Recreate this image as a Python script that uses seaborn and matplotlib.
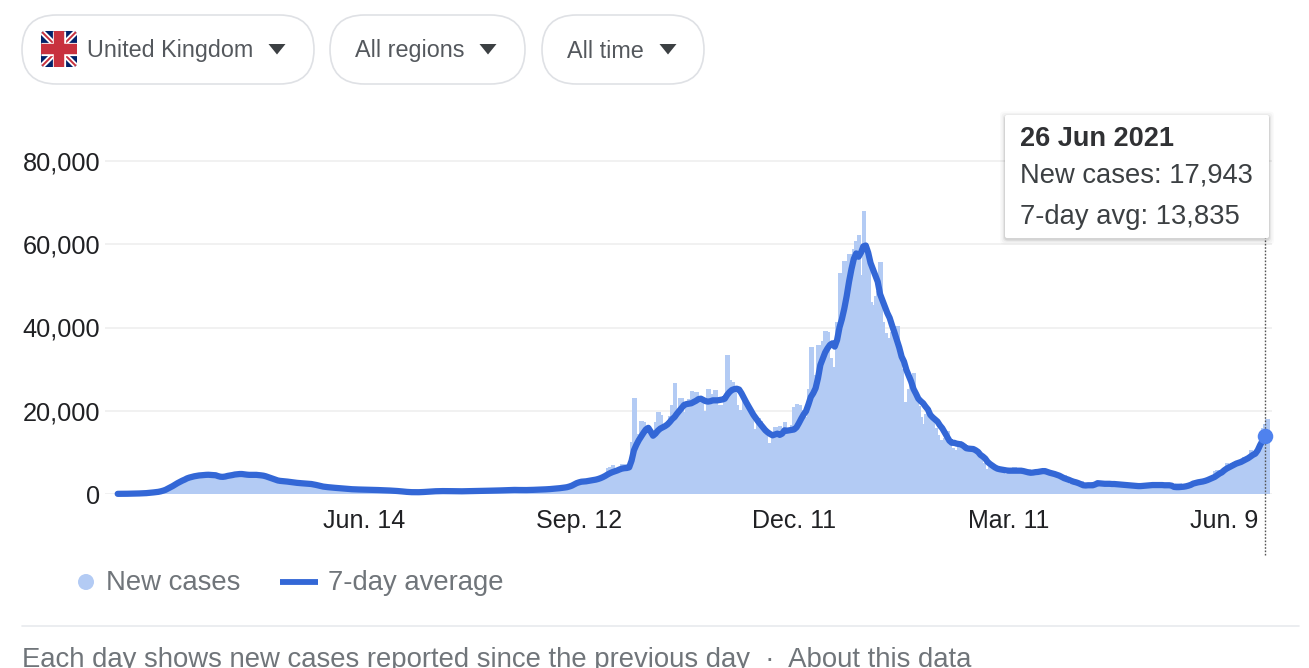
import matplotlib
matplotlib.use("Agg")
import matplotlib.pyplot as plt
import matplotlib.dates as mdates
from matplotlib.patches import FancyBboxPatch, Polygon, Circle
import numpy as np
import pandas as pd
import seaborn as sns

# Daily reported cases, one row per week (Tuesday to Monday), from 3 Mar 2020
new_cases = [
    50, 40, 50, 60, 60, 50, 40,
    70, 60, 90, 130, 210, 150, 170,
    300, 400, 480, 540, 700, 850, 1000,
    1200, 1500, 2100, 2600, 2600, 2500, 2700,
    3300, 3800, 4000, 4200, 4300, 4400, 4200,
    4500, 4700, 4700, 4800, 4600, 4400, 4300,
    4000, 4000, 4100, 4300, 4500, 4600, 4400,
    4600, 4800, 4900, 4900, 4800, 4500, 4300,
    4500, 4700, 4800, 4700, 4500, 4200, 4000,
    3600, 3700, 3900, 3500, 3200, 2900, 2900,
    3000, 3100, 3100, 2900, 2700, 2500, 2500,
    2600, 2700, 2700, 2500, 2300, 2100, 2000,
    1950, 1900, 1850, 1750, 1600, 1400, 1500,
    1500, 1600, 1500, 1400, 1300, 1200, 1100,
    1100, 1200, 1200, 1150, 1100, 1000, 900,
    1000, 1100, 1100, 1000, 900, 850, 800,
    850, 950, 950, 850, 750, 650, 550,
    650, 600, 550, 500, 450, 400, 350,
    450, 550, 550, 600, 550, 500, 550,
    650, 750, 750, 750, 700, 650, 600,
    650, 700, 700, 700, 650, 600, 600,
    680, 750, 750, 780, 750, 720, 700,
    800, 880, 850, 850, 800, 750, 700,
    870, 950, 1000, 1050, 1000, 950, 850,
    950, 1050, 1050, 1000, 950, 850, 900,
    1050, 1150, 1150, 1100, 1100, 1100, 1200,
    1200, 1350, 1400, 1450, 1450, 1500, 1700,
    1900, 2400, 2600, 2900, 3200, 2900, 2600,
    2700, 3100, 3300, 3400, 3900, 4400, 4000,
    4900, 6200, 6600, 6900, 6000, 5700, 4000,
    7100, 7100, 6900, 7000, 12600, 23000, 14500,
    14200, 17500, 17200, 13900, 15200, 12900, 14000,
    17200, 19700, 19000, 15700, 16200, 17000, 18800,
    21300, 26700, 20500, 23000, 23000, 19800, 20900,
    22900, 24700, 23100, 24400, 21900, 23300, 19000,
    20000, 25200, 24100, 23300, 25000, 20600, 21400,
    20400, 23000, 33500, 27300, 26900, 25000, 21400,
    20100, 19600, 22900, 20300, 19900, 18700, 15500,
    11300, 18200, 17600, 16000, 15900, 12200, 12300,
    13400, 16200, 14900, 16300, 15500, 17300, 14700,
    12300, 16600, 21000, 21700, 21500, 18400, 20300,
    18500, 25200, 35400, 28500, 27100, 35900, 33400,
    36800, 39200, 39000, 32700, 30500, 30500, 41400,
    53100, 50000, 55900, 53300, 57700, 55000, 58800,
    60900, 62300, 52600, 68000, 59900, 54900, 46200,
    45500, 47500, 48700, 55800, 41300, 38600, 37500,
    33400, 38900, 37900, 40300, 33600, 30000, 22200,
    20100, 25300, 28700, 29100, 23300, 21100, 18600,
    16800, 19200, 20600, 19100, 18300, 15800, 14100,
    12400, 13000, 13500, 15100, 13300, 11000, 9800,
    10600, 12700, 12100, 12000, 10400, 9800, 10600,
    8500, 9900, 10000, 8500, 7400, 6000, 5500,
    6400, 5800, 6600, 6000, 5500, 5200, 4700,
    4700, 5900, 6300, 6600, 5500, 4600, 5100,
    5300, 5800, 6000, 5300, 5000, 4700, 5300,
    5200, 5500, 5700, 5500, 5000, 4300, 3800,
    4000, 4000, 4500, 4500, 3400, 2300, 2300,
    2400, 3000, 3000, 3100, 2600, 1700, 1800,
    2500, 2800, 3000, 2700, 2200, 1900, 2100,
    2600, 2500, 2700, 2600, 2100, 1700, 1900,
    2300, 2400, 2300, 2200, 1900, 1600, 1650,
    2000, 2200, 2300, 2100, 2000, 1700, 1650,
    2350, 2500, 2450, 2300, 1900, 1700, 1650,
    2300, 2700, 2700, 2000, 1900, 1600, 1700,
    2500, 2800, 3200, 3400, 3200, 2500, 3100,
    3400, 3600, 4000, 5600, 5800, 5000, 5300,
    6000, 7500, 7000, 7400, 7700, 7400, 7800,
    7700, 8900, 8000, 8400, 10600, 9300, 9300,
    10500, 12000, 15800, 16700, 17943,
]

# Seven-day average for the same days
seven_day_avg = [
    40, 40, 40, 50, 60, 70, 80,
    100, 110, 130, 150, 180, 210, 260,
    330, 380, 440, 520, 640, 800, 1000,
    1300, 1600, 1900, 2250, 2600, 2900, 3200,
    3450, 3750, 3950, 4100, 4250, 4350, 4450,
    4500, 4560, 4600, 4620, 4580, 4560, 4500,
    4300, 4150, 4120, 4200, 4350, 4450, 4550,
    4680, 4750, 4800, 4800, 4720, 4650, 4600,
    4600, 4600, 4600, 4550, 4480, 4400, 4250,
    4050, 3850, 3650, 3450, 3250, 3150, 3100,
    3050, 2980, 2900, 2820, 2750, 2680, 2620,
    2580, 2540, 2500, 2460, 2400, 2300, 2180,
    2050, 1900, 1780, 1700, 1640, 1580, 1530,
    1480, 1430, 1380, 1330, 1280, 1230, 1190,
    1150, 1120, 1100, 1080, 1060, 1040, 1020,
    1010, 1000, 990, 970, 950, 930, 910,
    890, 860, 830, 800, 770, 720, 680,
    620, 560, 510, 470, 440, 430, 420,
    430, 450, 480, 520, 570, 620, 650,
    660, 680, 690, 700, 700, 700, 690,
    680, 670, 660, 650, 650, 660, 670,
    680, 700, 710, 720, 740, 750, 760,
    780, 790, 800, 810, 830, 840, 860,
    880, 900, 920, 950, 970, 980, 960,
    960, 950, 940, 950, 960, 980, 1000,
    1020, 1040, 1060, 1090, 1120, 1150, 1190,
    1240, 1290, 1340, 1400, 1470, 1550, 1640,
    1800, 2000, 2300, 2600, 2800, 2950, 3000,
    3050, 3150, 3250, 3350, 3450, 3600, 3800,
    4050, 4350, 4700, 5000, 5250, 5450, 5650,
    5900, 6100, 6200, 6250, 6400, 8000, 10500,
    11800, 12900, 13800, 14700, 15500, 15900, 15000,
    14000, 14500, 15200, 15700, 16000, 16300, 16700,
    17300, 18000, 18500, 19300, 20000, 20700, 21400,
    21600, 21700, 21800, 22100, 22400, 22800, 22900,
    22600, 22300, 22200, 22300, 22500, 22500, 22500,
    22600, 22700, 22900, 23800, 24500, 25000, 25200,
    25300, 25100, 24200, 23100, 22000, 21000, 20000,
    19000, 18200, 17400, 16700, 16000, 15300, 14800,
    14400, 14100, 14300, 14500, 14200, 14500, 15300,
    15200, 15300, 15400, 15500, 16000, 17000, 18100,
    19100, 19900, 21500, 23300, 24200, 25400, 27800,
    31000, 32500, 34000, 35000, 35800, 36200, 35400,
    37000, 40000, 42000, 44500, 47500, 51000, 54000,
    56500, 57800, 57000, 58000, 59500, 59700, 58000,
    55500, 54000, 52500, 51000, 48000, 46500, 45000,
    43500, 42300, 40500, 38800, 37000, 35200, 33000,
    31800, 29800, 28400, 27000, 25200, 24100, 22900,
    22300, 21800, 21000, 20300, 19000, 18400, 17900,
    17400, 16500, 15800, 14800, 13800, 12800, 12300,
    12300, 12100, 12000, 11900, 11500, 11000, 10900,
    10850, 10800, 10500, 10100, 9400, 9000, 8500,
    7700, 7200, 6800, 6400, 6100, 5950, 5850,
    5750, 5650, 5600, 5600, 5580, 5580, 5600,
    5600, 5500, 5350, 5200, 5100, 5150, 5250,
    5300, 5400, 5500, 5500, 5300, 5100, 4950,
    4800, 4600, 4400, 4100, 3800, 3600, 3400,
    3150, 2950, 2800, 2600, 2350, 2100, 2050,
    2100, 2100, 2100, 2300, 2600, 2550, 2500,
    2450, 2450, 2450, 2400, 2400, 2350, 2300,
    2250, 2200, 2150, 2100, 2050, 2000, 1950,
    1900, 1900, 1950, 2000, 2050, 2100, 2150,
    2150, 2150, 2150, 2150, 2100, 2100, 2100,
    2000, 1700, 1650, 1650, 1700, 1750, 1850,
    2000, 2200, 2500, 2650, 2800, 2900, 3000,
    3150, 3350, 3600, 3850, 4100, 4500, 4900,
    5200, 5700, 6100, 6400, 6700, 7000, 7300,
    7500, 7700, 8000, 8300, 8600, 9000, 9400,
    9700, 10500, 11760, 12800, 13835,
]

first_day = "2020-03-03"
tick_dates = ["2020-06-14", "2020-09-12", "2020-12-11", "2021-03-11", "2021-06-09"]
tick_labels = ["Jun. 14", "Sep. 12", "Dec. 11", "Mar. 11", "Jun. 9"]
y_ticks = [0, 20000, 40000, 60000, 80000]
filter_labels = ["United Kingdom", "All regions", "All time"]

W, H = 1309, 668
PX_PER_DAY = 2.39
PX_PER_CASE = 333 / 80000
FIRST_DAY_PX = 117.7
BAR_COLOR = "#b3cbf4"
LINE_COLOR = "#3367d6"
MUTED = "#70757a"
INK = "#202124"

sns.set_theme(style="white")
plt.rcParams["font.family"] = ["Liberation Sans", "DejaVu Sans"]

dates = pd.date_range(first_day, periods=len(new_cases), freq="D")
day_num = mdates.date2num(dates)
df = pd.DataFrame({"day": day_num, "cases": new_cases, "avg": seven_day_avg})
df["bar_day"] = df["day"] + 1.2

fig = plt.figure(figsize=(W / 100, H / 100), dpi=100, facecolor="white")

# Plot area: baseline sits on pixel row 494
left_px, right_px, top_px, base_px = 105, 1272, 105, 494
ax = fig.add_axes([left_px / W, 1 - base_px / H, (right_px - left_px) / W, (base_px - top_px) / H])
ax.set_facecolor("none")

sns.barplot(data=df, x="bar_day", y="cases", native_scale=True, width=1.9,
            color=BAR_COLOR, saturation=1, linewidth=0, errorbar=None, ax=ax, zorder=2)
sns.lineplot(data=df, x="day", y="avg", color=LINE_COLOR, linewidth=4.5, errorbar=None,
             ax=ax, zorder=3, clip_on=False, solid_joinstyle="round")

ax.set_xlim(day_num[0] + (left_px - FIRST_DAY_PX) / PX_PER_DAY,
            day_num[0] + (right_px - FIRST_DAY_PX) / PX_PER_DAY)
ax.set_ylim(0, (base_px - top_px) / PX_PER_CASE)
ax.set_xticks(mdates.date2num(pd.to_datetime(tick_dates)))
ax.set_xticklabels(tick_labels)
ax.set_yticks(y_ticks)
ax.set_yticklabels([f"{v:,}" for v in y_ticks])
ax.set_xlabel("")
ax.set_ylabel("")
ax.tick_params(axis="x", length=6.5, width=1, color="#e4e4e4", labelsize=18, labelcolor=INK, pad=4)
ax.tick_params(axis="y", length=0, labelsize=18.3, labelcolor=INK, pad=3.5)
ax.grid(axis="y", color="#efefef", linewidth=1.2, zorder=0)
ax.set_axisbelow(True)
for spine in ax.spines.values():
    spine.set_visible(False)

# Crosshair and marker on the latest day
ax.vlines(day_num[-1], -61 / PX_PER_CASE, 256 / PX_PER_CASE, colors="#555555",
          linestyles=(0, (1.2, 1.2)), linewidth=1.0, clip_on=False, zorder=4)
sns.scatterplot(x=[day_num[-1]], y=[seven_day_avg[-1]], s=125, color="#4f82ee", linewidth=0,
                ax=ax, zorder=5, clip_on=False, legend=False)

# Page furniture drawn in pixel coordinates over the whole figure
ui = fig.add_axes([0, 0, 1, 1])
ui.set_xlim(0, W)
ui.set_ylim(H, 0)
ui.axis("off")
ui.patch.set_alpha(0)


def pill(x0, x1, y0=15, y1=84):
    r = (y1 - y0) / 2
    ui.add_patch(FancyBboxPatch((x0 + r, y0 + r), x1 - x0 - 2 * r, 0,
                                boxstyle=f"round,pad={r},rounding_size={r}",
                                fc="white", ec="#dfe1e5", lw=1.2))


def caret(cx, cy=49):
    ui.add_patch(Polygon([(cx - 8.5, cy - 5), (cx + 8.5, cy - 5), (cx, cy + 5.5)], fc="#3c4043", ec="none"))


pill(22, 314)
pill(330, 525)
pill(542, 704)
for text, tx, cx in zip(filter_labels, [87, 355, 567], [277, 488, 668]):
    ui.text(tx, 51, text, fontsize=16.8, color="#54585d", va="center", ha="left")
    caret(cx)

# Union flag
fx0, fx1, fy0, fy1 = 41, 77, 31, 67
clip = FancyBboxPatch((fx0 + 4, fy0 + 4), fx1 - fx0 - 8, fy1 - fy0 - 8,
                      boxstyle="round,pad=4,rounding_size=4", fc="#012169", ec="none")
ui.add_patch(clip)
for xs, ys, color, lw in [
    ((fx0, fx1), (fy0, fy1), "white", 4.0),
    ((fx0, fx1), (fy1, fy0), "white", 4.0),
    ((fx0, fx1), (fy0, fy1), "#c8313e", 1.4),
    ((fx0, fx1), (fy1, fy0), "#c8313e", 1.4),
    ((fx0, fx1), (49, 49), "white", 9.5),
    ((59, 59), (fy0, fy1), "white", 9.5),
    ((fx0, fx1), (49, 49), "#c8313e", 7.5),
    ((59, 59), (fy0, fy1), "#c8313e", 7.5),
]:
    seg, = ui.plot(xs, ys, color=color, lw=lw, solid_capstyle="butt")
    seg.set_clip_path(clip)

# Hover card
card_x, card_y, card_w, card_h = 1005, 115, 264, 123
for grow, alpha in [(5, 0.02), (3.5, 0.03), (2, 0.05), (1, 0.07)]:
    ui.add_patch(FancyBboxPatch((card_x - grow, card_y - grow + 1.5), card_w + 2 * grow, card_h + 2 * grow,
                                boxstyle="round,pad=0,rounding_size=4", fc="black", ec="none", alpha=alpha))
ui.add_patch(FancyBboxPatch((card_x, card_y), card_w, card_h,
                            boxstyle="round,pad=0,rounding_size=2", fc="white", ec="none"))
ui.text(1020, 139, dates[-1].strftime("%d %b %Y"), fontsize=19.5, fontweight="bold", color="#303134", va="center")
ui.text(1020, 176, f"New cases: {new_cases[-1]:,}", fontsize=19.7, color="#3c4043", va="center")
ui.text(1020, 217, f"7-day avg: {seven_day_avg[-1]:,}", fontsize=19.7, color="#3c4043", va="center")

# Legend row
ui.add_patch(Circle((86, 582), 8, fc=BAR_COLOR, ec="none"))
ui.text(106, 583, "New cases", fontsize=19.8, color=MUTED, va="center")
ui.plot([280, 318], [582, 582], color=LINE_COLOR, lw=4.2, solid_capstyle="butt")
ui.text(328, 583, "7-day average", fontsize=19.8, color=MUTED, va="center")

# Footer
ui.plot([22, 1299], [626, 626], color="#e8eaed", lw=1.2)
ui.text(22, 660, "Each day shows new cases reported since the previous day  \u00b7  About this data",
        fontsize=19.8, color=MUTED, va="center")

fig.savefig("out.png", dpi=100, facecolor="white")
